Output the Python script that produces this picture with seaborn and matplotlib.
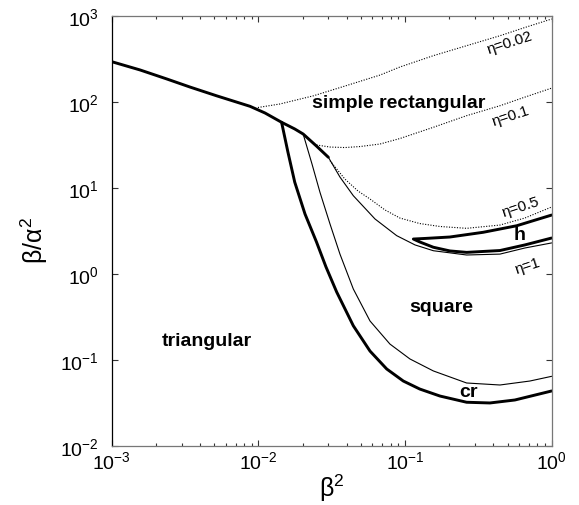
import seaborn as sns
from matplotlib import pyplot as plt
from matplotlib.ticker import LogLocator, NullLocator, NullFormatter

# frontera triangular / rectangular (linea gruesa)
tri_x = [0.001, 0.00156, 0.00237, 0.00342, 0.0052, 0.00877, 0.0111, 0.0144, 0.0177, 0.0202, 0.0249, 0.0300]
tri_y = [292, 234, 184, 148, 117, 88.4, 73.9, 57.6, 48.2, 42.1, 30.5, 22.6]

# linea critica "cr" (gruesa)
cr_x = [0.0144, 0.0159, 0.0177, 0.0208, 0.0249, 0.0289, 0.0342, 0.0444, 0.0577, 0.075, 0.0973, 0.126, 0.173, 0.263, 0.379, 0.561, 1.0]
cr_y = [57.6, 26.0, 11.6, 4.94, 2.34, 1.20, 0.612, 0.248, 0.126, 0.078, 0.0565, 0.0456, 0.0378, 0.0320, 0.0314, 0.0340, 0.0433]

# frontera del cuadrado (fina)
sq_x = [0.0202, 0.0232, 0.0263, 0.0308, 0.0360, 0.0444, 0.0577, 0.0789, 0.108, 0.156, 0.263, 0.444, 0.710, 1.0]
sq_y = [42.1, 18.9, 8.85, 3.78, 1.69, 0.664, 0.282, 0.152, 0.102, 0.074, 0.0536, 0.0508, 0.0565, 0.0641]

# eta = 1 (fina)
eta1_x = [0.0300, 0.0360, 0.0444, 0.0624, 0.0877, 0.117, 0.156, 0.263, 0.444, 0.656, 1.0]
eta1_y = [22.6, 13.3, 8.07, 4.33, 2.77, 2.16, 1.85, 1.65, 1.69, 1.99, 2.28]

# region h (lazo grueso)
h_x = [1.0, 0.577, 0.341, 0.202, 0.137, 0.114, 0.126, 0.156, 0.202, 0.263, 0.444, 0.656, 1.0]
h_y = [4.81, 3.61, 3.03, 2.67, 2.57, 2.53, 2.34, 2.03, 1.84, 1.77, 1.86, 2.16, 2.60]

# eta = 0.5 (punteada)
eta05_x = [0.0308, 0.0389, 0.0478, 0.0577, 0.0730, 0.0922, 0.126, 0.173, 0.263, 0.444, 0.656, 1.0]
eta05_y = [20.6, 12.6, 9.15, 7.39, 5.51, 4.44, 3.83, 3.54, 3.37, 3.68, 4.44, 5.97]

# eta = 0.1 (punteada)
eta01_x = [0.0249, 0.0308, 0.0389, 0.0493, 0.0675, 0.0922, 0.156, 0.263, 0.444, 0.656, 1.0]
eta01_y = [31.4, 29.7, 29.3, 30.1, 32.2, 37.3, 50.4, 68.8, 89.8, 113, 144]

# eta = 0.02 (punteada)
eta002_x = [0.00993, 0.0140, 0.0237, 0.0389, 0.0675, 0.0922, 0.156, 0.263, 0.444, 0.656, 1.0]
eta002_y = [85.6, 94.0, 117, 152, 204, 253, 343, 448, 585, 729, 916]

sns.set_theme(style="white", rc={'text.color': 'black', 'axes.labelcolor': 'black',
                                 'xtick.color': 'black', 'ytick.color': 'black'})
plt.rcParams['font.family'] = ['Liberation Sans', 'DejaVu Sans']
plt.rcParams['mathtext.default'] = 'regular'

fig = plt.figure(figsize=(5.79, 5.06), dpi=100)
ax = fig.add_axes([111.7 / 579, 1 - 446.7 / 506, 440 / 579, 430 / 506])
ax.set_xscale('log')
ax.set_yscale('log')

punteado = (0, (1, 1.4))


def curva(x, y, lw, ls='-'):
    sns.lineplot(x=x, y=y, ax=ax, color='black', lw=lw, linestyle=ls,
                 sort=False, estimator=None)


curva(eta002_x, eta002_y, 0.8, punteado)
curva(eta01_x, eta01_y, 0.8, punteado)
curva(eta05_x, eta05_y, 0.8, punteado)
curva(eta1_x, eta1_y, 0.8)
curva(sq_x, sq_y, 0.8)
curva(tri_x, tri_y, 2.1)
curva(cr_x, cr_y, 2.1)
curva(h_x, h_y, 2.1)

ax.set_xlim(1e-3, 1)
ax.set_ylim(1e-2, 1e3)

ax.xaxis.set_major_locator(LogLocator(base=10, numticks=10))
ax.xaxis.set_minor_locator(LogLocator(base=10, subs=range(2, 10), numticks=10))
ax.xaxis.set_minor_formatter(NullFormatter())
ax.yaxis.set_major_locator(LogLocator(base=10, numticks=10))
ax.yaxis.set_minor_locator(NullLocator())

ax.tick_params(which='both', direction='in', top=True, right=True, bottom=True, left=True,
               color='#333', width=0.8)
ax.tick_params(which='major', length=4.5, labelsize=14)
ax.tick_params(which='minor', length=2.5)
ax.tick_params(axis='x', pad=3)
ax.tick_params(axis='y', pad=9)

for lado in ['top', 'right', 'bottom']:
    ax.spines[lado].set_color('#777')
ax.spines['left'].set_color('black')
for sp in ax.spines.values():
    sp.set_linewidth(0.9)

ax.set_xlabel('β$^2$', fontsize=18)
ax.set_ylabel('β/α$^2$', fontsize=18)
ax.xaxis.set_label_coords(0.5, -0.06)
ax.yaxis.set_label_coords(-0.14, 0.48)

# etiquetas de las regiones
negrita = dict(fontsize=14, fontweight='bold', ha='center', va='center', transform=ax.transAxes)
ax.text(0.653, 0.799, 'simple rectangular', **negrita)
ax.text(0.216, 0.244, 'triangular', **negrita)
ax.text(0.75, 0.323, 'square', **negrita)
ax.text(0.81, 0.127, 'cr', **negrita)
ax.text(0.928, 0.49, 'h', **negrita)

fino = dict(fontsize=11, ha='center', va='center', rotation=18, transform=ax.transAxes)
ax.text(0.905, 0.939, 'η=0.02', **fino)
ax.text(0.907, 0.767, 'η=0.1', **fino)
ax.text(0.930, 0.556, 'η=0.5', **fino)
ax.text(0.945, 0.420, 'η=1', **fino)

plt.savefig('out.png', dpi=100)
